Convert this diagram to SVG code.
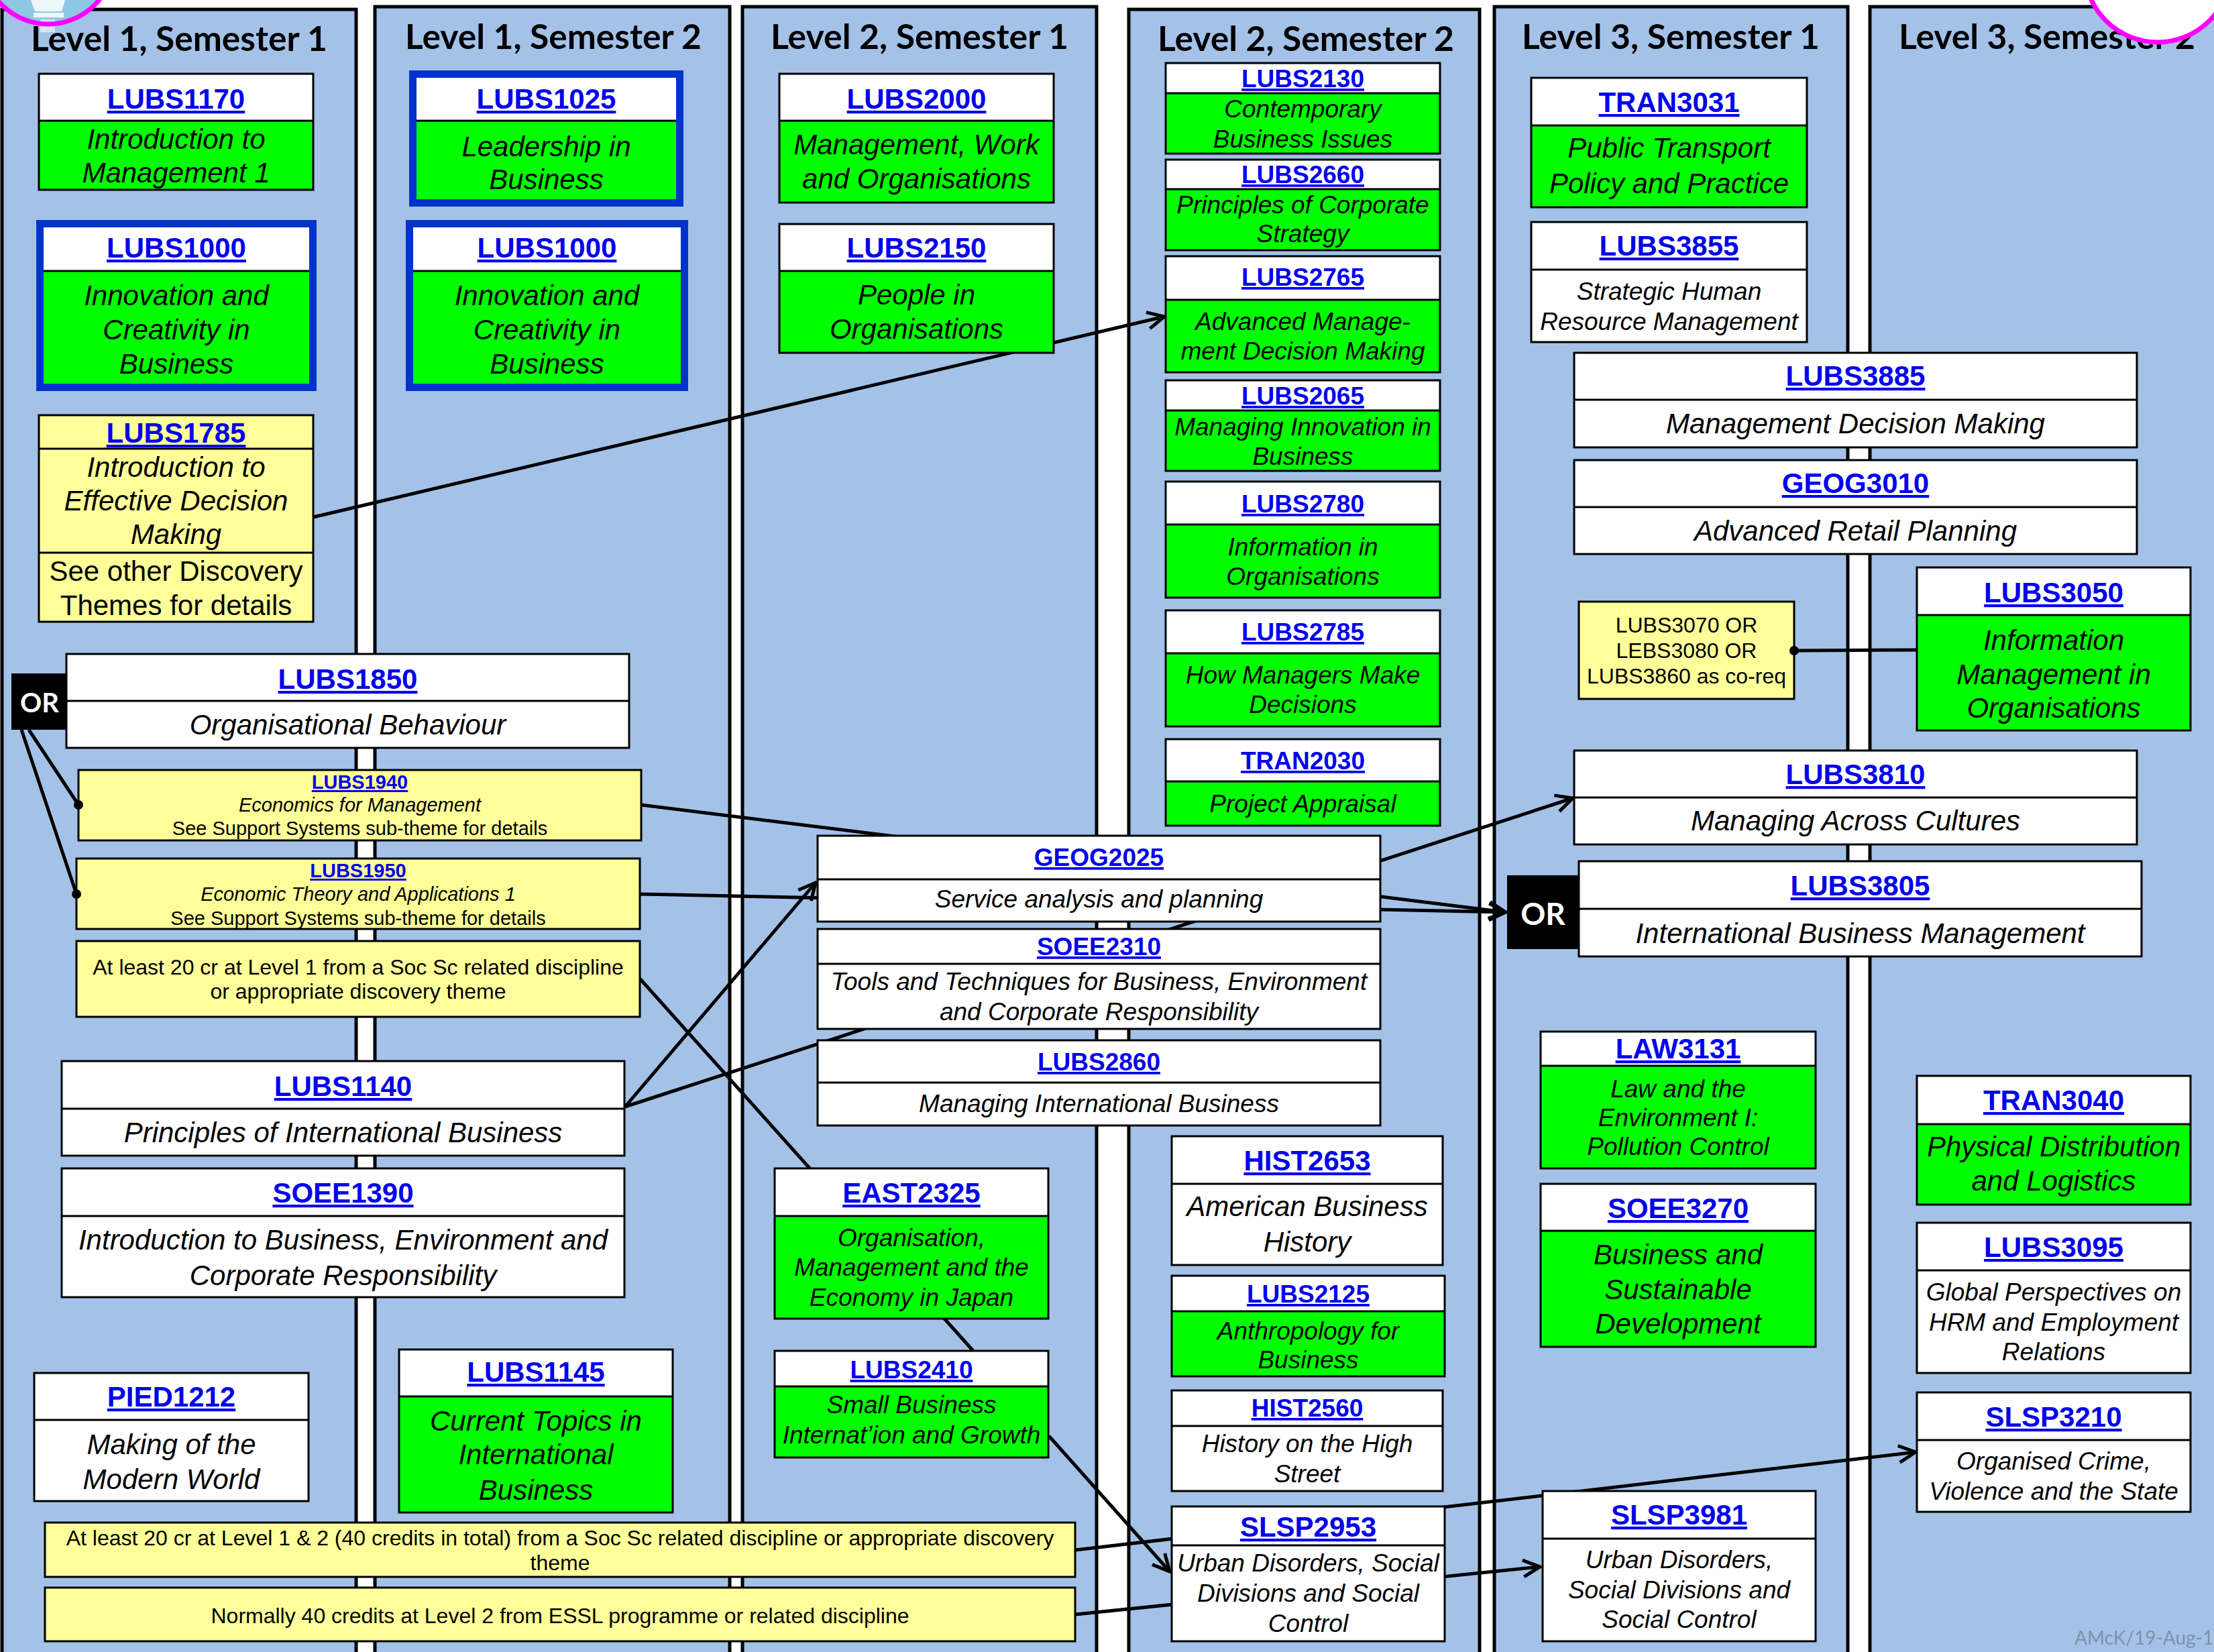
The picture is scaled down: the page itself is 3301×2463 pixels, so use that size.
<svg xmlns="http://www.w3.org/2000/svg" width="3301" height="2463" viewBox="0 0 3301 2463">
<defs>
<style>
.col{fill:#A4C2E8;stroke:#000;stroke-width:5}
.title{font-family:Lato,"Open Sans",sans-serif;font-weight:bold;font-size:52px;text-anchor:middle;fill:#000}
.w{fill:#fff}.g{fill:#00FF00}.y{fill:#FFFF99}
.o{fill:none;stroke:#000;stroke-width:3}
.d{stroke:#000;stroke-width:3}
.frame{fill:none;stroke:#0033CC;stroke-width:11}
.code{font-family:"Liberation Sans",Arial,sans-serif;font-weight:bold;fill:#0000EE;text-decoration:underline;text-anchor:middle}
.t{font-family:"Liberation Sans",Arial,sans-serif;font-style:italic;text-anchor:middle;fill:#000}
.r{font-family:"Liberation Sans",Arial,sans-serif;text-anchor:middle;fill:#000}
.f42{font-size:42px}.f37{font-size:37px}.f32{font-size:32px}.f29{font-size:29px}
.orb{fill:#000}
.ort{font-family:Lato,"Open Sans",sans-serif;font-weight:bold;fill:#fff;text-anchor:middle}
.conn{stroke:#000;stroke-width:5;fill:none}
.arr{marker-end:url(#arrow)}
</style>
<marker id="arrow" viewBox="0 0 12 12" refX="11" refY="6" markerWidth="6" markerHeight="6" markerUnits="strokeWidth" orient="auto">
<path d="M1,1 L11,6 L1,11" fill="none" stroke="#000" stroke-width="2"/>
</marker>
<clipPath id="c1"><circle cx="72" cy="-62" r="98"/></clipPath>
</defs>
<rect x="0" y="0" width="3301" height="2463" fill="#fff"/>

<g id="columns">
<rect class="col" x="3" y="14" width="528" height="2480"/>
<rect class="col" x="559" y="10" width="529" height="2480"/>
<rect class="col" x="1107" y="10" width="528" height="2480"/>
<rect class="col" x="1683" y="14" width="523" height="2480"/>
<rect class="col" x="2228" y="10" width="527" height="2480"/>
<rect class="col" x="2788" y="10" width="540" height="2480"/>
</g>

<g id="decor-left">
<circle cx="72" cy="-62" r="98" fill="#8DC8E2"/>
<g clip-path="url(#c1)">
<path d="M46,0 L97,0 L92,17 L52,17 Z" fill="#EEF7FC"/>
<rect x="50" y="19" width="45" height="7" fill="#EEF7FC"/>
</g>
<rect x="60" y="29" width="22" height="19" fill="#D4E6F6"/>
<circle cx="72" cy="-62" r="98" fill="none" stroke="#FF00FF" stroke-width="7"/>
</g>

<g id="titles">
<text class="title" x="267" y="76" textLength="442" lengthAdjust="spacingAndGlyphs">Level 1, Semester 1</text>
<text class="title" x="825" y="73" textLength="442" lengthAdjust="spacingAndGlyphs">Level 1, Semester 2</text>
<text class="title" x="1371" y="73" textLength="444" lengthAdjust="spacingAndGlyphs">Level 2, Semester 1</text>
<text class="title" x="1947" y="76" textLength="442" lengthAdjust="spacingAndGlyphs">Level 2, Semester 2</text>
<text class="title" x="2491" y="73" textLength="444" lengthAdjust="spacingAndGlyphs">Level 3, Semester 1</text>
<text class="title" x="3052" y="73" textLength="442" lengthAdjust="spacingAndGlyphs">Level 3, Semester 2</text>
</g>

<g id="decor-right">
<circle cx="3217" cy="-46" r="109" fill="#fff" stroke="#FF00FF" stroke-width="7"/>
</g>

<g id="connectors">
<line class="conn arr" x1="467" y1="771" x2="1736" y2="472"/>
<line class="conn" x1="43" y1="1088" x2="117" y2="1200"/>
<line class="conn" x1="32" y1="1088" x2="114" y2="1333"/>
<line class="conn arr" x1="956" y1="1200" x2="2245" y2="1360"/>
<line class="conn arr" x1="954" y1="1333" x2="2245" y2="1360"/>
<line class="conn" x1="954" y1="1459" x2="1451" y2="2014"/>
<line class="conn arr" x1="932" y1="1650" x2="1216" y2="1316"/>
<line class="conn arr" x1="932" y1="1650" x2="2345" y2="1190"/>
<line class="conn arr" x1="1564" y1="2141" x2="1744" y2="2343"/>
<line class="conn arr" x1="1603" y1="2311" x2="2856" y2="2165"/>
<line class="conn arr" x1="1603" y1="2407" x2="2296" y2="2336"/>
<line class="conn" x1="2675" y1="970" x2="2858" y2="969"/>
</g>

<g id="LUBS1170">
<rect class="g" x="58" y="110" width="409" height="173"/>
<rect class="w" x="58" y="110" width="409" height="70"/>
<rect class="o" x="58" y="110" width="409" height="173"/>
<line class="d" x1="58" y1="180" x2="467" y2="180"/>
<text class="code f42" x="262.5" y="162">LUBS1170</text>
<text class="t f42"><tspan x="262.5" y="222">Introduction to</tspan><tspan x="262.5" y="272">Management 1</tspan></text>
</g>

<g id="LUBS1000-s1">
<rect class="g" x="65" y="339" width="396" height="238"/>
<rect class="w" x="65" y="339" width="396" height="65"/>
<line class="d" x1="65" y1="404" x2="461" y2="404"/>
<rect class="frame" x="59.5" y="333.5" width="407" height="244"/>
<text class="code f42" x="263" y="384">LUBS1000</text>
<text class="t f42"><tspan x="263" y="455">Innovation and</tspan><tspan x="263" y="506">Creativity in</tspan><tspan x="263" y="557">Business</tspan></text>
</g>

<g id="LUBS1785">
<rect class="y" x="58" y="619" width="409" height="308"/>
<rect class="o" x="58" y="619" width="409" height="308"/>
<line class="d" x1="58" y1="669" x2="467" y2="669"/>
<line class="d" x1="58" y1="824" x2="467" y2="824"/>
<text class="code f42" x="262.5" y="660">LUBS1785</text>
<text class="t f42"><tspan x="262.5" y="711">Introduction to</tspan><tspan x="262.5" y="761">Effective Decision</tspan><tspan x="262.5" y="811">Making</tspan></text>
<text class="r f42"><tspan x="262.5" y="866">See other Discovery</tspan><tspan x="262.5" y="917">Themes for details</tspan></text>
</g>

<g id="OR-left">
<rect class="orb" x="17" y="1004" width="84" height="84"/>
<text class="ort" x="59" y="1062" font-size="40">OR</text>
</g>

<g id="LUBS1850">
<rect class="w" x="99" y="975" width="839" height="140"/>
<rect class="o" x="99" y="975" width="839" height="140"/>
<line class="d" x1="99" y1="1045" x2="938" y2="1045"/>
<text class="code f42" x="518.5" y="1027">LUBS1850</text>
<text class="t f42" x="518.5" y="1095">Organisational Behaviour</text>
</g>

<g id="LUBS1940">
<rect class="y" x="117" y="1148" width="839" height="105"/>
<rect class="o" x="117" y="1148" width="839" height="105"/>
<text class="code f29" x="536.5" y="1176">LUBS1940</text>
<text class="t f29" x="536.5" y="1210">Economics for Management</text>
<text class="r f29" x="536.5" y="1245">See Support Systems sub-theme for details</text>
</g>

<g id="LUBS1950">
<rect class="y" x="114" y="1280" width="840" height="105"/>
<rect class="o" x="114" y="1280" width="840" height="105"/>
<text class="code f29" x="534" y="1308">LUBS1950</text>
<text class="t f29" x="534" y="1343">Economic Theory and Applications 1</text>
<text class="r f29" x="534" y="1379">See Support Systems sub-theme for details</text>
</g>

<g id="req-level1">
<rect class="y" x="114" y="1403" width="840" height="113"/>
<rect class="o" x="114" y="1403" width="840" height="113"/>
<text class="r f32"><tspan x="534" y="1453">At least 20 cr at Level 1 from a Soc Sc related discipline</tspan><tspan x="534" y="1489">or appropriate discovery theme</tspan></text>
</g>

<g id="LUBS1140">
<rect class="w" x="92" y="1582" width="839" height="141"/>
<rect class="o" x="92" y="1582" width="839" height="141"/>
<line class="d" x1="92" y1="1653" x2="931" y2="1653"/>
<text class="code f42" x="511.5" y="1634">LUBS1140</text>
<text class="t f42" x="511.5" y="1703">Principles of International Business</text>
</g>

<g id="SOEE1390">
<rect class="w" x="92" y="1742" width="839" height="192"/>
<rect class="o" x="92" y="1742" width="839" height="192"/>
<line class="d" x1="92" y1="1813" x2="931" y2="1813"/>
<text class="code f42" x="511.5" y="1793">SOEE1390</text>
<text class="t f42"><tspan x="511.5" y="1863">Introduction to Business, Environment and</tspan><tspan x="511.5" y="1916">Corporate Responsibility</tspan></text>
</g>

<g id="PIED1212">
<rect class="w" x="51" y="2047" width="409" height="191"/>
<rect class="o" x="51" y="2047" width="409" height="191"/>
<line class="d" x1="51" y1="2117" x2="460" y2="2117"/>
<text class="code f42" x="255.5" y="2097">PIED1212</text>
<text class="t f42"><tspan x="255.5" y="2168">Making of the</tspan><tspan x="255.5" y="2220">Modern World</tspan></text>
</g>

<g id="LUBS1025">
<rect class="g" x="621" y="116" width="387" height="181"/>
<rect class="w" x="621" y="116" width="387" height="64"/>
<line class="d" x1="621" y1="180" x2="1008" y2="180"/>
<rect class="frame" x="615.5" y="110.5" width="398" height="192"/>
<text class="code f42" x="814.5" y="162">LUBS1025</text>
<text class="t f42"><tspan x="814.5" y="233">Leadership in</tspan><tspan x="814.5" y="282">Business</tspan></text>
</g>

<g id="LUBS1000-s2">
<rect class="g" x="616" y="339" width="399" height="238"/>
<rect class="w" x="616" y="339" width="399" height="65"/>
<line class="d" x1="616" y1="404" x2="1015" y2="404"/>
<rect class="frame" x="610.5" y="333.5" width="410" height="244"/>
<text class="code f42" x="815.5" y="384">LUBS1000</text>
<text class="t f42"><tspan x="815.5" y="455">Innovation and</tspan><tspan x="815.5" y="506">Creativity in</tspan><tspan x="815.5" y="557">Business</tspan></text>
</g>

<g id="LUBS1145">
<rect class="g" x="595" y="2012" width="408" height="243"/>
<rect class="w" x="595" y="2012" width="408" height="70"/>
<rect class="o" x="595" y="2012" width="408" height="243"/>
<line class="d" x1="595" y1="2082" x2="1003" y2="2082"/>
<text class="code f42" x="799" y="2060">LUBS1145</text>
<text class="t f42"><tspan x="799" y="2133">Current Topics in</tspan><tspan x="799" y="2183">International</tspan><tspan x="799" y="2236">Business</tspan></text>
</g>

<g id="req-level12">
<rect class="y" x="67" y="2270" width="1536" height="81"/>
<rect class="o" x="67" y="2270" width="1536" height="81"/>
<text class="r f32"><tspan x="835" y="2304">At least 20 cr at Level 1 &amp; 2 (40 credits in total) from a Soc Sc related discipline or appropriate discovery</tspan><tspan x="835" y="2341">theme</tspan></text>
</g>

<g id="req-level2">
<rect class="y" x="67" y="2367" width="1536" height="80"/>
<rect class="o" x="67" y="2367" width="1536" height="80"/>
<text class="r f32" x="835" y="2420">Normally 40 credits at Level 2 from ESSL programme or related discipline</text>
</g>

<g id="LUBS2000">
<rect class="g" x="1162" y="110" width="409" height="192"/>
<rect class="w" x="1162" y="110" width="409" height="70"/>
<rect class="o" x="1162" y="110" width="409" height="192"/>
<line class="d" x1="1162" y1="180" x2="1571" y2="180"/>
<text class="code f42" x="1366.5" y="162">LUBS2000</text>
<text class="t f42"><tspan x="1366.5" y="230">Management, Work</tspan><tspan x="1366.5" y="281">and Organisations</tspan></text>
</g>

<g id="LUBS2150">
<rect class="g" x="1162" y="334" width="409" height="192"/>
<rect class="w" x="1162" y="334" width="409" height="70"/>
<rect class="o" x="1162" y="334" width="409" height="192"/>
<line class="d" x1="1162" y1="404" x2="1571" y2="404"/>
<text class="code f42" x="1366.5" y="384">LUBS2150</text>
<text class="t f42"><tspan x="1366.5" y="454">People in</tspan><tspan x="1366.5" y="505">Organisations</tspan></text>
</g>

<g id="GEOG2025">
<rect class="w" x="1219" y="1246" width="839" height="128"/>
<rect class="o" x="1219" y="1246" width="839" height="128"/>
<line class="d" x1="1219" y1="1311" x2="2058" y2="1311"/>
<text class="code f37" x="1638.5" y="1291">GEOG2025</text>
<text class="t f37" x="1638.5" y="1353">Service analysis and planning</text>
</g>

<g id="SOEE2310">
<rect class="w" x="1219" y="1385" width="839" height="149"/>
<rect class="o" x="1219" y="1385" width="839" height="149"/>
<line class="d" x1="1219" y1="1437" x2="2058" y2="1437"/>
<text class="code f37" x="1638.5" y="1424">SOEE2310</text>
<text class="t f37"><tspan x="1638.5" y="1476">Tools and Techniques for Business, Environment</tspan><tspan x="1638.5" y="1521">and Corporate Responsibility</tspan></text>
</g>

<g id="LUBS2860">
<rect class="w" x="1219" y="1551" width="839" height="127"/>
<rect class="o" x="1219" y="1551" width="839" height="127"/>
<line class="d" x1="1219" y1="1614" x2="2058" y2="1614"/>
<text class="code f37" x="1638.5" y="1596">LUBS2860</text>
<text class="t f37" x="1638.5" y="1658">Managing International Business</text>
</g>

<g id="EAST2325">
<rect class="g" x="1155" y="1742" width="408" height="224"/>
<rect class="w" x="1155" y="1742" width="408" height="71"/>
<rect class="o" x="1155" y="1742" width="408" height="224"/>
<line class="d" x1="1155" y1="1813" x2="1563" y2="1813"/>
<text class="code f42" x="1359" y="1793">EAST2325</text>
<text class="t f37"><tspan x="1359" y="1858">Organisation,</tspan><tspan x="1359" y="1902">Management and the</tspan><tspan x="1359" y="1947">Economy in Japan</tspan></text>
</g>

<g id="LUBS2410">
<rect class="g" x="1155" y="2014" width="408" height="159"/>
<rect class="w" x="1155" y="2014" width="408" height="53"/>
<rect class="o" x="1155" y="2014" width="408" height="159"/>
<line class="d" x1="1155" y1="2067" x2="1563" y2="2067"/>
<text class="code f37" x="1359" y="2055">LUBS2410</text>
<text class="t f37"><tspan x="1359" y="2107">Small Business</tspan><tspan x="1359" y="2152">Internat’ion and Growth</tspan></text>
</g>

<g id="LUBS2130">
<rect class="g" x="1738" y="94" width="409" height="135"/>
<rect class="w" x="1738" y="94" width="409" height="45"/>
<rect class="o" x="1738" y="94" width="409" height="135"/>
<line class="d" x1="1738" y1="139" x2="2147" y2="139"/>
<text class="code f37" x="1942.5" y="130">LUBS2130</text>
<text class="t f37"><tspan x="1942.5" y="175">Contemporary</tspan><tspan x="1942.5" y="220">Business Issues</tspan></text>
</g>

<g id="LUBS2660">
<rect class="g" x="1738" y="238" width="409" height="135"/>
<rect class="w" x="1738" y="238" width="409" height="44"/>
<rect class="o" x="1738" y="238" width="409" height="135"/>
<line class="d" x1="1738" y1="282" x2="2147" y2="282"/>
<text class="code f37" x="1942.5" y="273">LUBS2660</text>
<text class="t f37"><tspan x="1942.5" y="318">Principles of Corporate</tspan><tspan x="1942.5" y="361">Strategy</tspan></text>
</g>

<g id="LUBS2765">
<rect class="g" x="1738" y="382" width="409" height="173"/>
<rect class="w" x="1738" y="382" width="409" height="65"/>
<rect class="o" x="1738" y="382" width="409" height="173"/>
<line class="d" x1="1738" y1="447" x2="2147" y2="447"/>
<text class="code f37" x="1942.5" y="426">LUBS2765</text>
<text class="t f37"><tspan x="1942.5" y="492">Advanced Manage-</tspan><tspan x="1942.5" y="536">ment Decision Making</tspan></text>
</g>

<g id="LUBS2065">
<rect class="g" x="1738" y="567" width="409" height="135"/>
<rect class="w" x="1738" y="567" width="409" height="45"/>
<rect class="o" x="1738" y="567" width="409" height="135"/>
<line class="d" x1="1738" y1="612" x2="2147" y2="612"/>
<text class="code f37" x="1942.5" y="603">LUBS2065</text>
<text class="t f37"><tspan x="1942.5" y="649">Managing Innovation in</tspan><tspan x="1942.5" y="693">Business</tspan></text>
</g>

<g id="LUBS2780">
<rect class="g" x="1738" y="718" width="409" height="173"/>
<rect class="w" x="1738" y="718" width="409" height="64"/>
<rect class="o" x="1738" y="718" width="409" height="173"/>
<line class="d" x1="1738" y1="782" x2="2147" y2="782"/>
<text class="code f37" x="1942.5" y="764">LUBS2780</text>
<text class="t f37"><tspan x="1942.5" y="828">Information in</tspan><tspan x="1942.5" y="872">Organisations</tspan></text>
</g>

<g id="LUBS2785">
<rect class="g" x="1738" y="910" width="409" height="173"/>
<rect class="w" x="1738" y="910" width="409" height="64"/>
<rect class="o" x="1738" y="910" width="409" height="173"/>
<line class="d" x1="1738" y1="974" x2="2147" y2="974"/>
<text class="code f37" x="1942.5" y="955">LUBS2785</text>
<text class="t f37"><tspan x="1942.5" y="1019">How Managers Make</tspan><tspan x="1942.5" y="1063">Decisions</tspan></text>
</g>

<g id="TRAN2030">
<rect class="g" x="1738" y="1102" width="409" height="129"/>
<rect class="w" x="1738" y="1102" width="409" height="63"/>
<rect class="o" x="1738" y="1102" width="409" height="129"/>
<line class="d" x1="1738" y1="1165" x2="2147" y2="1165"/>
<text class="code f37" x="1942.5" y="1147">TRAN2030</text>
<text class="t f37" x="1942.5" y="1211">Project Appraisal</text>
</g>

<g id="HIST2653">
<rect class="w" x="1747" y="1694" width="404" height="192"/>
<rect class="o" x="1747" y="1694" width="404" height="192"/>
<line class="d" x1="1747" y1="1765" x2="2151" y2="1765"/>
<text class="code f42" x="1949" y="1745">HIST2653</text>
<text class="t f42"><tspan x="1949" y="1813">American Business</tspan><tspan x="1949" y="1866">History</tspan></text>
</g>

<g id="LUBS2125">
<rect class="g" x="1747" y="1902" width="407" height="150"/>
<rect class="w" x="1747" y="1902" width="407" height="53"/>
<rect class="o" x="1747" y="1902" width="407" height="150"/>
<line class="d" x1="1747" y1="1955" x2="2154" y2="1955"/>
<text class="code f37" x="1950.5" y="1942">LUBS2125</text>
<text class="t f37"><tspan x="1950.5" y="1997">Anthropology for</tspan><tspan x="1950.5" y="2040">Business</tspan></text>
</g>

<g id="HIST2560">
<rect class="w" x="1747" y="2073" width="404" height="150"/>
<rect class="o" x="1747" y="2073" width="404" height="150"/>
<line class="d" x1="1747" y1="2126" x2="2151" y2="2126"/>
<text class="code f37" x="1949" y="2112">HIST2560</text>
<text class="t f37"><tspan x="1949" y="2165">History on the High</tspan><tspan x="1949" y="2210">Street</tspan></text>
</g>

<g id="SLSP2953">
<rect class="w" x="1747" y="2246" width="407" height="201"/>
<rect class="o" x="1747" y="2246" width="407" height="201"/>
<line class="d" x1="1747" y1="2304" x2="2154" y2="2304"/>
<text class="code f42" x="1950.5" y="2291">SLSP2953</text>
<text class="t f37"><tspan x="1950.5" y="2343">Urban Disorders, Social</tspan><tspan x="1950.5" y="2388">Divisions and Social</tspan><tspan x="1950.5" y="2433">Control</tspan></text>
</g>

<g id="TRAN3031">
<rect class="g" x="2283" y="116" width="411" height="193"/>
<rect class="w" x="2283" y="116" width="411" height="71"/>
<rect class="o" x="2283" y="116" width="411" height="193"/>
<line class="d" x1="2283" y1="187" x2="2694" y2="187"/>
<text class="code f42" x="2488.5" y="167">TRAN3031</text>
<text class="t f42"><tspan x="2488.5" y="235">Public Transport</tspan><tspan x="2488.5" y="288">Policy and Practice</tspan></text>
</g>

<g id="LUBS3855">
<rect class="w" x="2283" y="331" width="411" height="179"/>
<rect class="o" x="2283" y="331" width="411" height="179"/>
<line class="d" x1="2283" y1="402" x2="2694" y2="402"/>
<text class="code f42" x="2488.5" y="381">LUBS3855</text>
<text class="t f37"><tspan x="2488.5" y="447">Strategic Human</tspan><tspan x="2488.5" y="492">Resource Management</tspan></text>
</g>

<g id="LUBS3885">
<rect class="w" x="2347" y="526" width="839" height="141"/>
<rect class="o" x="2347" y="526" width="839" height="141"/>
<line class="d" x1="2347" y1="596" x2="3186" y2="596"/>
<text class="code f42" x="2766.5" y="575">LUBS3885</text>
<text class="t f42" x="2766.5" y="646">Management Decision Making</text>
</g>

<g id="GEOG3010">
<rect class="w" x="2347" y="686" width="839" height="140"/>
<rect class="o" x="2347" y="686" width="839" height="140"/>
<line class="d" x1="2347" y1="756" x2="3186" y2="756"/>
<text class="code f42" x="2766.5" y="735">GEOG3010</text>
<text class="t f42" x="2766.5" y="806">Advanced Retail Planning</text>
</g>

<g id="coreq">
<rect class="y" x="2354" y="897" width="321" height="145"/>
<rect class="o" x="2354" y="897" width="321" height="145"/>
<text class="r f32"><tspan x="2514.5" y="943">LUBS3070 OR</tspan><tspan x="2514.5" y="981">LEBS3080 OR</tspan><tspan x="2514.5" y="1019">LUBS3860 as co-req</tspan></text>
</g>

<g id="LUBS3810">
<rect class="w" x="2347" y="1119" width="839" height="140"/>
<rect class="o" x="2347" y="1119" width="839" height="140"/>
<line class="d" x1="2347" y1="1189" x2="3186" y2="1189"/>
<text class="code f42" x="2766.5" y="1169">LUBS3810</text>
<text class="t f42" x="2766.5" y="1238">Managing Across Cultures</text>
</g>

<g id="OR-right">
<rect class="orb" x="2247" y="1305" width="107" height="110"/>
<text class="ort" x="2300.5" y="1379" font-size="46">OR</text>
</g>

<g id="LUBS3805">
<rect class="w" x="2354" y="1284" width="839" height="142"/>
<rect class="o" x="2354" y="1284" width="839" height="142"/>
<line class="d" x1="2354" y1="1355" x2="3193" y2="1355"/>
<text class="code f42" x="2773.5" y="1335">LUBS3805</text>
<text class="t f42" x="2773.5" y="1406">International Business Management</text>
</g>

<g id="LAW3131">
<rect class="g" x="2297" y="1538" width="410" height="204"/>
<rect class="w" x="2297" y="1538" width="410" height="51"/>
<rect class="o" x="2297" y="1538" width="410" height="204"/>
<line class="d" x1="2297" y1="1589" x2="2707" y2="1589"/>
<text class="code f42" x="2502" y="1578">LAW3131</text>
<text class="t f37"><tspan x="2502" y="1636">Law and the</tspan><tspan x="2502" y="1679">Environment I:</tspan><tspan x="2502" y="1722">Pollution Control</tspan></text>
</g>

<g id="SOEE3270">
<rect class="g" x="2297" y="1765" width="410" height="243"/>
<rect class="w" x="2297" y="1765" width="410" height="70"/>
<rect class="o" x="2297" y="1765" width="410" height="243"/>
<line class="d" x1="2297" y1="1835" x2="2707" y2="1835"/>
<text class="code f42" x="2502" y="1816">SOEE3270</text>
<text class="t f42"><tspan x="2502" y="1885">Business and</tspan><tspan x="2502" y="1937">Sustainable</tspan><tspan x="2502" y="1988">Development</tspan></text>
</g>

<g id="SLSP3981">
<rect class="w" x="2300" y="2223" width="407" height="224"/>
<rect class="o" x="2300" y="2223" width="407" height="224"/>
<line class="d" x1="2300" y1="2294" x2="2707" y2="2294"/>
<text class="code f42" x="2503.5" y="2273">SLSP3981</text>
<text class="t f37"><tspan x="2503.5" y="2338">Urban Disorders,</tspan><tspan x="2503.5" y="2383">Social Divisions and</tspan><tspan x="2503.5" y="2427">Social Control</tspan></text>
</g>

<g id="LUBS3050">
<rect class="g" x="2858" y="846" width="408" height="243"/>
<rect class="w" x="2858" y="846" width="408" height="71"/>
<rect class="o" x="2858" y="846" width="408" height="243"/>
<line class="d" x1="2858" y1="917" x2="3266" y2="917"/>
<text class="code f42" x="3062" y="898">LUBS3050</text>
<text class="t f42"><tspan x="3062" y="969">Information</tspan><tspan x="3062" y="1020">Management in</tspan><tspan x="3062" y="1070">Organisations</tspan></text>
</g>

<g id="TRAN3040">
<rect class="g" x="2858" y="1604" width="408" height="192"/>
<rect class="w" x="2858" y="1604" width="408" height="72"/>
<rect class="o" x="2858" y="1604" width="408" height="192"/>
<line class="d" x1="2858" y1="1676" x2="3266" y2="1676"/>
<text class="code f42" x="3062" y="1655">TRAN3040</text>
<text class="t f42"><tspan x="3062" y="1724">Physical Distribution</tspan><tspan x="3062" y="1775">and Logistics</tspan></text>
</g>

<g id="LUBS3095">
<rect class="w" x="2858" y="1823" width="408" height="224"/>
<rect class="o" x="2858" y="1823" width="408" height="224"/>
<line class="d" x1="2858" y1="1894" x2="3266" y2="1894"/>
<text class="code f42" x="3062" y="1874">LUBS3095</text>
<text class="t f37"><tspan x="3062" y="1939">Global Perspectives on</tspan><tspan x="3062" y="1984">HRM and Employment</tspan><tspan x="3062" y="2028">Relations</tspan></text>
</g>

<g id="SLSP3210">
<rect class="w" x="2858" y="2076" width="408" height="178"/>
<rect class="o" x="2858" y="2076" width="408" height="178"/>
<line class="d" x1="2858" y1="2147" x2="3266" y2="2147"/>
<text class="code f42" x="3062" y="2127">SLSP3210</text>
<text class="t f37"><tspan x="3062" y="2191">Organised Crime,</tspan><tspan x="3062" y="2236">Violence and the State</tspan></text>
</g>

<g id="connector-ends">
<circle cx="117" cy="1200" r="7" fill="#000"/>
<circle cx="114" cy="1333" r="7" fill="#000"/>
<circle cx="2675" cy="970" r="7" fill="#000"/>
</g>

<text x="3093" y="2452" font-family="Lato,'Open Sans',sans-serif" font-size="28" fill="#7F8FA9">AMcK/19-Aug-1</text>
</svg>
